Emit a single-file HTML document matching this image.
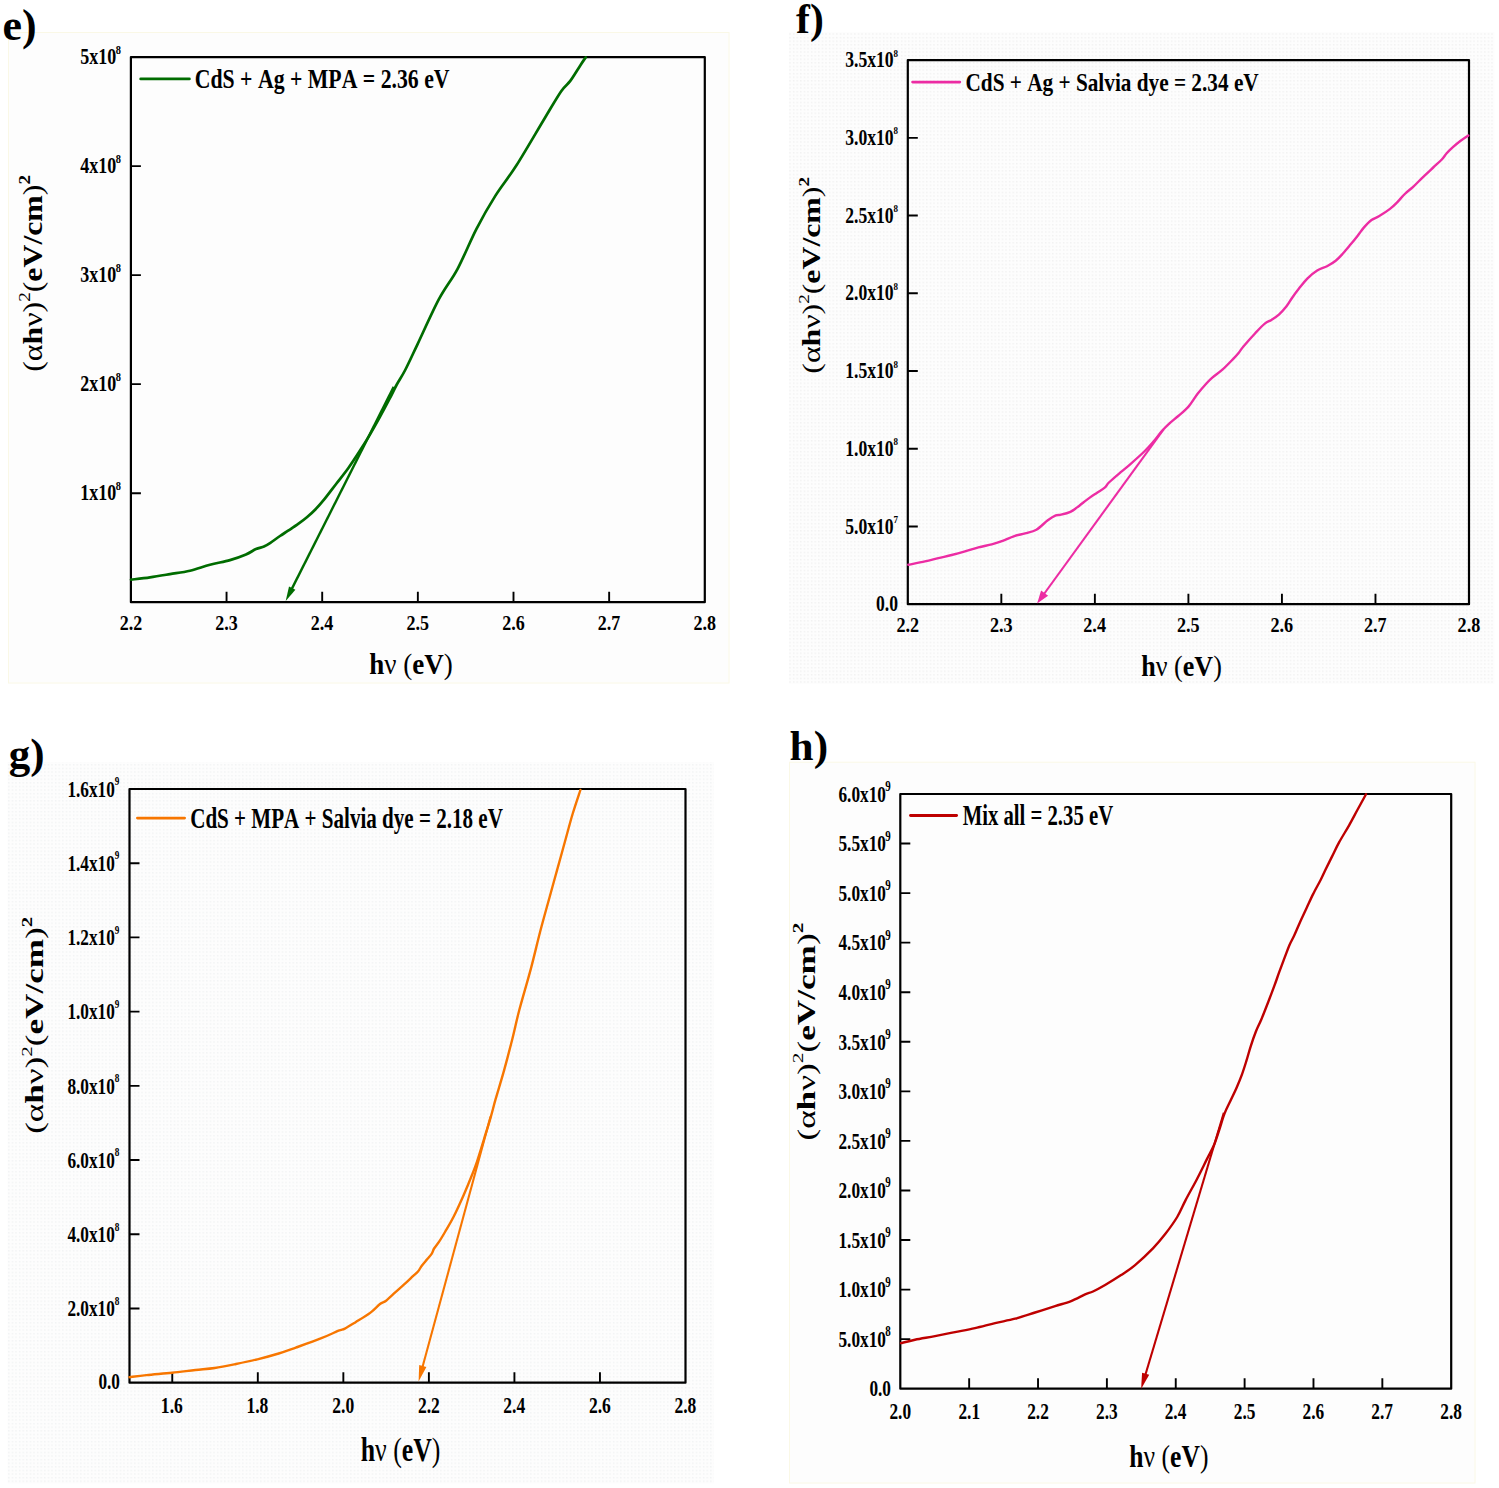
<!DOCTYPE html>
<html><head><meta charset="utf-8"><style>
html,body{margin:0;padding:0;background:#fff;}
svg{display:block;}
text{font-family:"Liberation Serif",serif;font-kerning:none;white-space:pre;}
</style></head><body>
<svg width="1499" height="1488" viewBox="0 0 1499 1488">
<defs>
<pattern id="dots" x="0" y="0" width="3.6" height="3.6" patternUnits="userSpaceOnUse"><rect width="3.6" height="3.6" fill="#fdfdfd"/><rect x="1" y="1" width="1.3" height="1.3" fill="#efefef"/></pattern>
<pattern id="dots2" x="0" y="0" width="3.6" height="3.6" patternUnits="userSpaceOnUse"><rect width="3.6" height="3.6" fill="#fdfdfd"/><rect x="1" y="1" width="1.3" height="1.3" fill="#eff1f2"/></pattern>
</defs>
<rect x="0" y="0" width="1499" height="1488" fill="#ffffff"/>
<rect x="8.5" y="32.5" width="720.5" height="650.5" fill="#fdfdfd" stroke="#faf8e6" stroke-width="1"/>
<rect x="788.8" y="32.2" width="705.7" height="651.8" fill="url(#dots)"/>
<rect x="7.7" y="762" width="706.2" height="721.5" fill="url(#dots2)"/>
<rect x="789.5" y="762.2" width="685.5" height="720.8" fill="#fdfdfd" stroke="#faf8e6" stroke-width="1"/>
<rect x="130.90" y="57.10" width="573.90" height="545.10" fill="none" stroke="#000" stroke-width="2.2" stroke-linejoin="round"/>
<path d="M226.55,602.20V591.70M322.20,602.20V591.70M417.85,602.20V591.70M513.50,602.20V591.70M609.15,602.20V591.70M130.90,493.18H140.90M130.90,384.16H140.90M130.90,275.14H140.90M130.90,166.12H140.90" stroke="#000" stroke-width="1.9" fill="none"/>
<rect x="907.80" y="60.10" width="561.20" height="544.10" fill="none" stroke="#000" stroke-width="2.2" stroke-linejoin="round"/>
<path d="M1001.33,604.20V593.70M1094.87,604.20V593.70M1188.40,604.20V593.70M1281.93,604.20V593.70M1375.47,604.20V593.70M907.80,526.47H917.80M907.80,448.74H917.80M907.80,371.01H917.80M907.80,293.29H917.80M907.80,215.56H917.80M907.80,137.83H917.80" stroke="#000" stroke-width="1.9" fill="none"/>
<rect x="129.50" y="789.00" width="556.00" height="593.70" fill="none" stroke="#000" stroke-width="2.2" stroke-linejoin="round"/>
<path d="M172.27,1382.70V1372.20M257.81,1382.70V1372.20M343.35,1382.70V1372.20M428.88,1382.70V1372.20M514.42,1382.70V1372.20M599.96,1382.70V1372.20M129.50,1308.49H139.50M129.50,1234.28H139.50M129.50,1160.06H139.50M129.50,1085.85H139.50M129.50,1011.64H139.50M129.50,937.42H139.50M129.50,863.21H139.50" stroke="#000" stroke-width="1.9" fill="none"/>
<rect x="900.30" y="794.00" width="550.90" height="594.70" fill="none" stroke="#000" stroke-width="2.2" stroke-linejoin="round"/>
<path d="M969.16,1388.70V1378.20M1038.03,1388.70V1378.20M1106.89,1388.70V1378.20M1175.75,1388.70V1378.20M1244.61,1388.70V1378.20M1313.48,1388.70V1378.20M1382.34,1388.70V1378.20M900.30,1339.14H910.30M900.30,1289.58H910.30M900.30,1240.03H910.30M900.30,1190.47H910.30M900.30,1140.91H910.30M900.30,1091.35H910.30M900.30,1041.79H910.30M900.30,992.23H910.30M900.30,942.67H910.30M900.30,893.12H910.30M900.30,843.56H910.30" stroke="#000" stroke-width="1.9" fill="none"/>
<g transform="translate(119.65,629.70) scale(0.8340,1.0000)" fill="#000">
<text x="0.00" y="-0.00" font-size="21.60" font-weight="bold" font-style="normal">2.2</text>
</g>
<g transform="translate(215.22,629.70) scale(0.8340,1.0000)" fill="#000">
<text x="0.00" y="-0.00" font-size="21.60" font-weight="bold" font-style="normal">2.3</text>
</g>
<g transform="translate(310.73,629.70) scale(0.8340,1.0000)" fill="#000">
<text x="0.00" y="-0.00" font-size="21.60" font-weight="bold" font-style="normal">2.4</text>
</g>
<g transform="translate(406.54,629.70) scale(0.8340,1.0000)" fill="#000">
<text x="0.00" y="-0.00" font-size="21.60" font-weight="bold" font-style="normal">2.5</text>
</g>
<g transform="translate(502.13,629.70) scale(0.8340,1.0000)" fill="#000">
<text x="0.00" y="-0.00" font-size="21.60" font-weight="bold" font-style="normal">2.6</text>
</g>
<g transform="translate(597.73,629.70) scale(0.8340,1.0000)" fill="#000">
<text x="0.00" y="-0.00" font-size="21.60" font-weight="bold" font-style="normal">2.7</text>
</g>
<g transform="translate(693.46,629.76) scale(0.8340,1.0000)" fill="#000">
<text x="0.00" y="-0.00" font-size="21.60" font-weight="bold" font-style="normal">2.8</text>
</g>
<g transform="translate(896.44,632.40) scale(0.8660,1.0000)" fill="#000">
<text x="0.00" y="-0.00" font-size="21.00" font-weight="bold" font-style="normal">2.2</text>
</g>
<g transform="translate(989.90,632.40) scale(0.8660,1.0000)" fill="#000">
<text x="0.00" y="-0.00" font-size="21.00" font-weight="bold" font-style="normal">2.3</text>
</g>
<g transform="translate(1083.29,632.40) scale(0.8660,1.0000)" fill="#000">
<text x="0.00" y="-0.00" font-size="21.00" font-weight="bold" font-style="normal">2.4</text>
</g>
<g transform="translate(1176.98,632.40) scale(0.8660,1.0000)" fill="#000">
<text x="0.00" y="-0.00" font-size="21.00" font-weight="bold" font-style="normal">2.5</text>
</g>
<g transform="translate(1270.45,632.40) scale(0.8660,1.0000)" fill="#000">
<text x="0.00" y="-0.00" font-size="21.00" font-weight="bold" font-style="normal">2.6</text>
</g>
<g transform="translate(1363.94,632.40) scale(0.8660,1.0000)" fill="#000">
<text x="0.00" y="-0.00" font-size="21.00" font-weight="bold" font-style="normal">2.7</text>
</g>
<g transform="translate(1457.55,632.47) scale(0.8660,1.0000)" fill="#000">
<text x="0.00" y="-0.00" font-size="21.00" font-weight="bold" font-style="normal">2.8</text>
</g>
<g transform="translate(160.87,1413.09) scale(0.7300,1.0000)" fill="#000">
<text x="0.00" y="-0.00" font-size="24.00" font-weight="bold" font-style="normal">1.6</text>
</g>
<g transform="translate(246.45,1413.16) scale(0.7300,1.0000)" fill="#000">
<text x="0.00" y="-0.00" font-size="24.00" font-weight="bold" font-style="normal">1.8</text>
</g>
<g transform="translate(332.36,1413.16) scale(0.7300,1.0000)" fill="#000">
<text x="0.00" y="-0.00" font-size="24.00" font-weight="bold" font-style="normal">2.0</text>
</g>
<g transform="translate(417.94,1413.09) scale(0.7300,1.0000)" fill="#000">
<text x="0.00" y="-0.00" font-size="24.00" font-weight="bold" font-style="normal">2.2</text>
</g>
<g transform="translate(503.27,1413.09) scale(0.7300,1.0000)" fill="#000">
<text x="0.00" y="-0.00" font-size="24.00" font-weight="bold" font-style="normal">2.4</text>
</g>
<g transform="translate(588.90,1413.09) scale(0.7300,1.0000)" fill="#000">
<text x="0.00" y="-0.00" font-size="24.00" font-weight="bold" font-style="normal">2.6</text>
</g>
<g transform="translate(674.47,1413.16) scale(0.7300,1.0000)" fill="#000">
<text x="0.00" y="-0.00" font-size="24.00" font-weight="bold" font-style="normal">2.8</text>
</g>
<g transform="translate(889.43,1418.76) scale(0.7410,1.0000)" fill="#000">
<text x="0.00" y="-0.00" font-size="23.40" font-weight="bold" font-style="normal">2.0</text>
</g>
<g transform="translate(958.41,1418.69) scale(0.7410,1.0000)" fill="#000">
<text x="0.00" y="-0.00" font-size="23.40" font-weight="bold" font-style="normal">2.1</text>
</g>
<g transform="translate(1027.20,1418.69) scale(0.7410,1.0000)" fill="#000">
<text x="0.00" y="-0.00" font-size="23.40" font-weight="bold" font-style="normal">2.2</text>
</g>
<g transform="translate(1095.98,1418.69) scale(0.7410,1.0000)" fill="#000">
<text x="0.00" y="-0.00" font-size="23.40" font-weight="bold" font-style="normal">2.3</text>
</g>
<g transform="translate(1164.71,1418.69) scale(0.7410,1.0000)" fill="#000">
<text x="0.00" y="-0.00" font-size="23.40" font-weight="bold" font-style="normal">2.4</text>
</g>
<g transform="translate(1233.73,1418.69) scale(0.7410,1.0000)" fill="#000">
<text x="0.00" y="-0.00" font-size="23.40" font-weight="bold" font-style="normal">2.5</text>
</g>
<g transform="translate(1302.53,1418.69) scale(0.7410,1.0000)" fill="#000">
<text x="0.00" y="-0.00" font-size="23.40" font-weight="bold" font-style="normal">2.6</text>
</g>
<g transform="translate(1371.35,1418.69) scale(0.7410,1.0000)" fill="#000">
<text x="0.00" y="-0.00" font-size="23.40" font-weight="bold" font-style="normal">2.7</text>
</g>
<g transform="translate(1440.29,1418.76) scale(0.7410,1.0000)" fill="#000">
<text x="0.00" y="-0.00" font-size="23.40" font-weight="bold" font-style="normal">2.8</text>
</g>
<g transform="translate(80.32,500.45) scale(0.8100,1.0000)" fill="#000">
<text x="0.00" y="-0.00" font-size="22.20" font-weight="bold" font-style="normal">1x10</text>
</g>
<g transform="translate(115.66,489.93) scale(0.8800,1.0000)" fill="#000">
<text x="0.00" y="-0.00" font-size="11.80" font-weight="bold" font-style="normal">8</text>
</g>
<g transform="translate(80.32,391.43) scale(0.8100,1.0000)" fill="#000">
<text x="0.00" y="-0.00" font-size="22.20" font-weight="bold" font-style="normal">2x10</text>
</g>
<g transform="translate(115.66,380.91) scale(0.8800,1.0000)" fill="#000">
<text x="0.00" y="-0.00" font-size="11.80" font-weight="bold" font-style="normal">8</text>
</g>
<g transform="translate(80.32,282.41) scale(0.8100,1.0000)" fill="#000">
<text x="0.00" y="-0.00" font-size="22.20" font-weight="bold" font-style="normal">3x10</text>
</g>
<g transform="translate(115.66,271.89) scale(0.8800,1.0000)" fill="#000">
<text x="0.00" y="-0.00" font-size="11.80" font-weight="bold" font-style="normal">8</text>
</g>
<g transform="translate(80.32,173.39) scale(0.8100,1.0000)" fill="#000">
<text x="0.00" y="-0.00" font-size="22.20" font-weight="bold" font-style="normal">4x10</text>
</g>
<g transform="translate(115.66,162.87) scale(0.8800,1.0000)" fill="#000">
<text x="0.00" y="-0.00" font-size="11.80" font-weight="bold" font-style="normal">8</text>
</g>
<g transform="translate(80.32,64.37) scale(0.8100,1.0000)" fill="#000">
<text x="0.00" y="-0.00" font-size="22.20" font-weight="bold" font-style="normal">5x10</text>
</g>
<g transform="translate(115.66,53.85) scale(0.8800,1.0000)" fill="#000">
<text x="0.00" y="-0.00" font-size="11.80" font-weight="bold" font-style="normal">8</text>
</g>
<g transform="translate(875.95,610.69) scale(0.7970,1.0000)" fill="#000">
<text x="0.00" y="-0.00" font-size="22.10" font-weight="bold" font-style="normal">0.0</text>
</g>
<g transform="translate(845.23,533.66) scale(0.7970,1.0000)" fill="#000">
<text x="0.00" y="-0.00" font-size="22.10" font-weight="bold" font-style="normal">5.0x10</text>
</g>
<g transform="translate(893.39,522.98) scale(0.8100,1.0000)" fill="#000">
<text x="0.00" y="-0.00" font-size="11.10" font-weight="bold" font-style="normal">7</text>
</g>
<g transform="translate(845.23,455.94) scale(0.7970,1.0000)" fill="#000">
<text x="0.00" y="-0.00" font-size="22.10" font-weight="bold" font-style="normal">1.0x10</text>
</g>
<g transform="translate(893.60,445.37) scale(0.8100,1.0000)" fill="#000">
<text x="0.00" y="-0.00" font-size="11.10" font-weight="bold" font-style="normal">8</text>
</g>
<g transform="translate(845.23,378.21) scale(0.7970,1.0000)" fill="#000">
<text x="0.00" y="-0.00" font-size="22.10" font-weight="bold" font-style="normal">1.5x10</text>
</g>
<g transform="translate(893.60,367.64) scale(0.8100,1.0000)" fill="#000">
<text x="0.00" y="-0.00" font-size="11.10" font-weight="bold" font-style="normal">8</text>
</g>
<g transform="translate(845.23,300.48) scale(0.7970,1.0000)" fill="#000">
<text x="0.00" y="-0.00" font-size="22.10" font-weight="bold" font-style="normal">2.0x10</text>
</g>
<g transform="translate(893.60,289.91) scale(0.8100,1.0000)" fill="#000">
<text x="0.00" y="-0.00" font-size="11.10" font-weight="bold" font-style="normal">8</text>
</g>
<g transform="translate(845.23,222.75) scale(0.7970,1.0000)" fill="#000">
<text x="0.00" y="-0.00" font-size="22.10" font-weight="bold" font-style="normal">2.5x10</text>
</g>
<g transform="translate(893.60,212.18) scale(0.8100,1.0000)" fill="#000">
<text x="0.00" y="-0.00" font-size="11.10" font-weight="bold" font-style="normal">8</text>
</g>
<g transform="translate(845.23,145.02) scale(0.7970,1.0000)" fill="#000">
<text x="0.00" y="-0.00" font-size="22.10" font-weight="bold" font-style="normal">3.0x10</text>
</g>
<g transform="translate(893.60,134.45) scale(0.8100,1.0000)" fill="#000">
<text x="0.00" y="-0.00" font-size="11.10" font-weight="bold" font-style="normal">8</text>
</g>
<g transform="translate(845.23,67.29) scale(0.7970,1.0000)" fill="#000">
<text x="0.00" y="-0.00" font-size="22.10" font-weight="bold" font-style="normal">3.5x10</text>
</g>
<g transform="translate(893.60,56.72) scale(0.8100,1.0000)" fill="#000">
<text x="0.00" y="-0.00" font-size="11.10" font-weight="bold" font-style="normal">8</text>
</g>
<g transform="translate(98.39,1389.18) scale(0.7310,1.0000)" fill="#000">
<text x="0.00" y="-0.00" font-size="23.60" font-weight="bold" font-style="normal">0.0</text>
</g>
<g transform="translate(67.42,1316.17) scale(0.7310,1.0000)" fill="#000">
<text x="0.00" y="-0.00" font-size="23.60" font-weight="bold" font-style="normal">2.0x10</text>
</g>
<g transform="translate(114.69,1304.77) scale(0.7100,1.0000)" fill="#000">
<text x="0.00" y="-0.00" font-size="13.00" font-weight="bold" font-style="normal">8</text>
</g>
<g transform="translate(67.42,1241.96) scale(0.7310,1.0000)" fill="#000">
<text x="0.00" y="-0.00" font-size="23.60" font-weight="bold" font-style="normal">4.0x10</text>
</g>
<g transform="translate(114.69,1230.56) scale(0.7100,1.0000)" fill="#000">
<text x="0.00" y="-0.00" font-size="13.00" font-weight="bold" font-style="normal">8</text>
</g>
<g transform="translate(67.42,1167.74) scale(0.7310,1.0000)" fill="#000">
<text x="0.00" y="-0.00" font-size="23.60" font-weight="bold" font-style="normal">6.0x10</text>
</g>
<g transform="translate(114.69,1156.34) scale(0.7100,1.0000)" fill="#000">
<text x="0.00" y="-0.00" font-size="13.00" font-weight="bold" font-style="normal">8</text>
</g>
<g transform="translate(67.42,1093.53) scale(0.7310,1.0000)" fill="#000">
<text x="0.00" y="-0.00" font-size="23.60" font-weight="bold" font-style="normal">8.0x10</text>
</g>
<g transform="translate(114.69,1082.13) scale(0.7100,1.0000)" fill="#000">
<text x="0.00" y="-0.00" font-size="13.00" font-weight="bold" font-style="normal">8</text>
</g>
<g transform="translate(67.42,1019.32) scale(0.7310,1.0000)" fill="#000">
<text x="0.00" y="-0.00" font-size="23.60" font-weight="bold" font-style="normal">1.0x10</text>
</g>
<g transform="translate(114.75,1007.88) scale(0.7100,1.0000)" fill="#000">
<text x="0.00" y="-0.00" font-size="13.00" font-weight="bold" font-style="normal">9</text>
</g>
<g transform="translate(67.42,945.11) scale(0.7310,1.0000)" fill="#000">
<text x="0.00" y="-0.00" font-size="23.60" font-weight="bold" font-style="normal">1.2x10</text>
</g>
<g transform="translate(114.75,933.67) scale(0.7100,1.0000)" fill="#000">
<text x="0.00" y="-0.00" font-size="13.00" font-weight="bold" font-style="normal">9</text>
</g>
<g transform="translate(67.42,870.89) scale(0.7310,1.0000)" fill="#000">
<text x="0.00" y="-0.00" font-size="23.60" font-weight="bold" font-style="normal">1.4x10</text>
</g>
<g transform="translate(114.75,859.45) scale(0.7100,1.0000)" fill="#000">
<text x="0.00" y="-0.00" font-size="13.00" font-weight="bold" font-style="normal">9</text>
</g>
<g transform="translate(67.42,796.68) scale(0.7310,1.0000)" fill="#000">
<text x="0.00" y="-0.00" font-size="23.60" font-weight="bold" font-style="normal">1.6x10</text>
</g>
<g transform="translate(114.75,785.24) scale(0.7100,1.0000)" fill="#000">
<text x="0.00" y="-0.00" font-size="13.00" font-weight="bold" font-style="normal">9</text>
</g>
<g transform="translate(869.39,1395.68) scale(0.7220,1.0000)" fill="#000">
<text x="0.00" y="-0.00" font-size="23.90" font-weight="bold" font-style="normal">0.0</text>
</g>
<g transform="translate(838.50,1346.92) scale(0.7220,1.0000)" fill="#000">
<text x="0.00" y="-0.00" font-size="23.90" font-weight="bold" font-style="normal">5.0x10</text>
</g>
<g transform="translate(885.14,1336.19) scale(0.8000,1.0000)" fill="#000">
<text x="0.00" y="-0.00" font-size="13.70" font-weight="bold" font-style="normal">8</text>
</g>
<g transform="translate(838.50,1297.36) scale(0.7220,1.0000)" fill="#000">
<text x="0.00" y="-0.00" font-size="23.90" font-weight="bold" font-style="normal">1.0x10</text>
</g>
<g transform="translate(885.20,1286.59) scale(0.8000,1.0000)" fill="#000">
<text x="0.00" y="-0.00" font-size="13.70" font-weight="bold" font-style="normal">9</text>
</g>
<g transform="translate(838.50,1247.80) scale(0.7220,1.0000)" fill="#000">
<text x="0.00" y="-0.00" font-size="23.90" font-weight="bold" font-style="normal">1.5x10</text>
</g>
<g transform="translate(885.20,1237.03) scale(0.8000,1.0000)" fill="#000">
<text x="0.00" y="-0.00" font-size="13.70" font-weight="bold" font-style="normal">9</text>
</g>
<g transform="translate(838.50,1198.24) scale(0.7220,1.0000)" fill="#000">
<text x="0.00" y="-0.00" font-size="23.90" font-weight="bold" font-style="normal">2.0x10</text>
</g>
<g transform="translate(885.20,1187.47) scale(0.8000,1.0000)" fill="#000">
<text x="0.00" y="-0.00" font-size="13.70" font-weight="bold" font-style="normal">9</text>
</g>
<g transform="translate(838.50,1148.69) scale(0.7220,1.0000)" fill="#000">
<text x="0.00" y="-0.00" font-size="23.90" font-weight="bold" font-style="normal">2.5x10</text>
</g>
<g transform="translate(885.20,1137.91) scale(0.8000,1.0000)" fill="#000">
<text x="0.00" y="-0.00" font-size="13.70" font-weight="bold" font-style="normal">9</text>
</g>
<g transform="translate(838.50,1099.13) scale(0.7220,1.0000)" fill="#000">
<text x="0.00" y="-0.00" font-size="23.90" font-weight="bold" font-style="normal">3.0x10</text>
</g>
<g transform="translate(885.20,1088.35) scale(0.8000,1.0000)" fill="#000">
<text x="0.00" y="-0.00" font-size="13.70" font-weight="bold" font-style="normal">9</text>
</g>
<g transform="translate(838.50,1049.57) scale(0.7220,1.0000)" fill="#000">
<text x="0.00" y="-0.00" font-size="23.90" font-weight="bold" font-style="normal">3.5x10</text>
</g>
<g transform="translate(885.20,1038.80) scale(0.8000,1.0000)" fill="#000">
<text x="0.00" y="-0.00" font-size="13.70" font-weight="bold" font-style="normal">9</text>
</g>
<g transform="translate(838.50,1000.01) scale(0.7220,1.0000)" fill="#000">
<text x="0.00" y="-0.00" font-size="23.90" font-weight="bold" font-style="normal">4.0x10</text>
</g>
<g transform="translate(885.20,989.24) scale(0.8000,1.0000)" fill="#000">
<text x="0.00" y="-0.00" font-size="13.70" font-weight="bold" font-style="normal">9</text>
</g>
<g transform="translate(838.50,950.45) scale(0.7220,1.0000)" fill="#000">
<text x="0.00" y="-0.00" font-size="23.90" font-weight="bold" font-style="normal">4.5x10</text>
</g>
<g transform="translate(885.20,939.68) scale(0.8000,1.0000)" fill="#000">
<text x="0.00" y="-0.00" font-size="13.70" font-weight="bold" font-style="normal">9</text>
</g>
<g transform="translate(838.50,900.89) scale(0.7220,1.0000)" fill="#000">
<text x="0.00" y="-0.00" font-size="23.90" font-weight="bold" font-style="normal">5.0x10</text>
</g>
<g transform="translate(885.20,890.12) scale(0.8000,1.0000)" fill="#000">
<text x="0.00" y="-0.00" font-size="13.70" font-weight="bold" font-style="normal">9</text>
</g>
<g transform="translate(838.50,851.34) scale(0.7220,1.0000)" fill="#000">
<text x="0.00" y="-0.00" font-size="23.90" font-weight="bold" font-style="normal">5.5x10</text>
</g>
<g transform="translate(885.20,840.56) scale(0.8000,1.0000)" fill="#000">
<text x="0.00" y="-0.00" font-size="13.70" font-weight="bold" font-style="normal">9</text>
</g>
<g transform="translate(838.50,801.78) scale(0.7220,1.0000)" fill="#000">
<text x="0.00" y="-0.00" font-size="23.90" font-weight="bold" font-style="normal">6.0x10</text>
</g>
<g transform="translate(885.20,791.00) scale(0.8000,1.0000)" fill="#000">
<text x="0.00" y="-0.00" font-size="13.70" font-weight="bold" font-style="normal">9</text>
</g>
<g transform="translate(369.23,673.80) scale(0.9104,1.0000)" fill="#000">
<text x="0.00" y="-0.00" font-size="29.70" font-weight="bold" font-style="normal">h</text>
<text x="16.52" y="-0.00" font-size="29.70" font-weight="normal" font-style="normal">ν</text>
<text x="29.95" y="-0.00" font-size="29.70" font-weight="bold" font-style="normal"> </text>
<text x="37.37" y="-0.00" font-size="29.70" font-weight="normal" font-style="normal">(</text>
<text x="47.26" y="-0.00" font-size="29.70" font-weight="bold" font-style="normal">eV</text>
<text x="81.89" y="-0.00" font-size="29.70" font-weight="normal" font-style="normal">)</text>
</g>
<g transform="translate(1141.35,676.00) scale(0.9044,1.0000)" fill="#000">
<text x="0.00" y="-0.00" font-size="28.80" font-weight="bold" font-style="normal">h</text>
<text x="16.02" y="-0.00" font-size="28.80" font-weight="normal" font-style="normal">ν</text>
<text x="29.04" y="-0.00" font-size="28.80" font-weight="bold" font-style="normal"> </text>
<text x="36.24" y="-0.00" font-size="28.80" font-weight="normal" font-style="normal">(</text>
<text x="45.83" y="-0.00" font-size="28.80" font-weight="bold" font-style="normal">eV</text>
<text x="79.41" y="-0.00" font-size="28.80" font-weight="normal" font-style="normal">)</text>
</g>
<g transform="translate(360.66,1460.70) scale(0.7895,1.0000)" fill="#000">
<text x="0.00" y="-0.00" font-size="32.70" font-weight="bold" font-style="normal">h</text>
<text x="18.19" y="-0.00" font-size="32.70" font-weight="normal" font-style="normal">ν</text>
<text x="32.97" y="-0.00" font-size="32.70" font-weight="bold" font-style="normal"> </text>
<text x="41.15" y="-0.00" font-size="32.70" font-weight="normal" font-style="normal">(</text>
<text x="52.04" y="-0.00" font-size="32.70" font-weight="bold" font-style="normal">eV</text>
<text x="90.16" y="-0.00" font-size="32.70" font-weight="normal" font-style="normal">)</text>
</g>
<g transform="translate(1129.36,1466.70) scale(0.8070,1.0000)" fill="#000">
<text x="0.00" y="-0.00" font-size="31.70" font-weight="bold" font-style="normal">h</text>
<text x="17.63" y="-0.00" font-size="31.70" font-weight="normal" font-style="normal">ν</text>
<text x="31.96" y="-0.00" font-size="31.70" font-weight="bold" font-style="normal"> </text>
<text x="39.89" y="-0.00" font-size="31.70" font-weight="normal" font-style="normal">(</text>
<text x="50.44" y="-0.00" font-size="31.70" font-weight="bold" font-style="normal">eV</text>
<text x="87.41" y="-0.00" font-size="31.70" font-weight="normal" font-style="normal">)</text>
</g>
<g transform="translate(41.90,371.80) rotate(-90) scale(1.1365,0.9571)" fill="#000">
<text x="0.00" y="-0.00" font-size="28.00" font-weight="normal" font-style="normal">(</text>
<text x="9.32" y="-0.00" font-size="28.00" font-weight="normal" font-style="normal">α</text>
<text x="23.99" y="-0.00" font-size="28.00" font-weight="bold" font-style="normal">h</text>
<text x="39.57" y="-0.00" font-size="28.00" font-weight="normal" font-style="normal">ν</text>
<text x="52.23" y="-0.00" font-size="28.00" font-weight="normal" font-style="normal">)</text>
<text x="61.55" y="-12.60" font-size="16.80" font-weight="normal" font-style="normal">2</text>
<text x="69.95" y="-0.00" font-size="28.00" font-weight="normal" font-style="normal">(</text>
<text x="79.28" y="-0.00" font-size="28.00" font-weight="bold" font-style="normal">eV/cm</text>
<text x="155.45" y="-0.00" font-size="28.00" font-weight="normal" font-style="normal">)</text>
<text x="164.78" y="-12.60" font-size="16.80" font-weight="bold" font-style="normal">2</text>
</g>
<g transform="translate(820.30,373.70) rotate(-90) scale(1.1359,0.9071)" fill="#000">
<text x="0.00" y="-0.00" font-size="28.00" font-weight="normal" font-style="normal">(</text>
<text x="9.32" y="-0.00" font-size="28.00" font-weight="normal" font-style="normal">α</text>
<text x="23.99" y="-0.00" font-size="28.00" font-weight="bold" font-style="normal">h</text>
<text x="39.57" y="-0.00" font-size="28.00" font-weight="normal" font-style="normal">ν</text>
<text x="52.23" y="-0.00" font-size="28.00" font-weight="normal" font-style="normal">)</text>
<text x="61.55" y="-12.60" font-size="16.80" font-weight="normal" font-style="normal">2</text>
<text x="69.95" y="-0.00" font-size="28.00" font-weight="normal" font-style="normal">(</text>
<text x="79.28" y="-0.00" font-size="28.00" font-weight="bold" font-style="normal">eV/cm</text>
<text x="155.45" y="-0.00" font-size="28.00" font-weight="normal" font-style="normal">)</text>
<text x="164.78" y="-12.60" font-size="16.80" font-weight="bold" font-style="normal">2</text>
</g>
<g transform="translate(43.00,1133.84) rotate(-90) scale(1.2533,0.9036)" fill="#000">
<text x="0.00" y="-0.00" font-size="28.00" font-weight="normal" font-style="normal">(</text>
<text x="9.32" y="-0.00" font-size="28.00" font-weight="normal" font-style="normal">α</text>
<text x="23.99" y="-0.00" font-size="28.00" font-weight="bold" font-style="normal">h</text>
<text x="39.57" y="-0.00" font-size="28.00" font-weight="normal" font-style="normal">ν</text>
<text x="52.23" y="-0.00" font-size="28.00" font-weight="normal" font-style="normal">)</text>
<text x="61.55" y="-12.60" font-size="16.80" font-weight="normal" font-style="normal">2</text>
<text x="69.95" y="-0.00" font-size="28.00" font-weight="normal" font-style="normal">(</text>
<text x="79.28" y="-0.00" font-size="28.00" font-weight="bold" font-style="normal">eV/cm</text>
<text x="155.45" y="-0.00" font-size="28.00" font-weight="normal" font-style="normal">)</text>
<text x="164.78" y="-12.60" font-size="16.80" font-weight="bold" font-style="normal">2</text>
</g>
<g transform="translate(814.50,1140.55) rotate(-90) scale(1.2574,0.9107)" fill="#000">
<text x="0.00" y="-0.00" font-size="28.00" font-weight="normal" font-style="normal">(</text>
<text x="9.32" y="-0.00" font-size="28.00" font-weight="normal" font-style="normal">α</text>
<text x="23.99" y="-0.00" font-size="28.00" font-weight="bold" font-style="normal">h</text>
<text x="39.57" y="-0.00" font-size="28.00" font-weight="normal" font-style="normal">ν</text>
<text x="52.23" y="-0.00" font-size="28.00" font-weight="normal" font-style="normal">)</text>
<text x="61.55" y="-12.60" font-size="16.80" font-weight="normal" font-style="normal">2</text>
<text x="69.95" y="-0.00" font-size="28.00" font-weight="normal" font-style="normal">(</text>
<text x="79.28" y="-0.00" font-size="28.00" font-weight="bold" font-style="normal">eV/cm</text>
<text x="155.45" y="-0.00" font-size="28.00" font-weight="normal" font-style="normal">)</text>
<text x="164.78" y="-12.60" font-size="16.80" font-weight="bold" font-style="normal">2</text>
</g>
<g transform="translate(2.50,39.60) scale(0.9986,1.0000)" fill="#000">
<text x="0.00" y="-0.00" font-size="44.00" font-weight="bold" font-style="normal">e)</text>
</g>
<g transform="translate(796.09,33.00) scale(0.9684,1.0000)" fill="#000">
<text x="0.00" y="-0.00" font-size="43.00" font-weight="bold" font-style="normal">f)</text>
</g>
<g transform="translate(8.77,768.00) scale(1.0001,1.0000)" fill="#000">
<text x="0.00" y="-0.00" font-size="43.00" font-weight="bold" font-style="normal">g)</text>
</g>
<g transform="translate(789.62,760.30) scale(1.0207,1.0000)" fill="#000">
<text x="0.00" y="-0.00" font-size="42.40" font-weight="bold" font-style="normal">h)</text>
</g>
<path d="M140.70000000000002,78.9H189.4" stroke="#006c00" stroke-width="2.8" stroke-linecap="round"/>
<g transform="translate(194.74,87.60) scale(0.8123,1.0000)" fill="#000">
<text x="0.00" y="-0.00" font-size="26.80" font-weight="bold" font-style="normal">CdS + Ag + MPA = 2.36 eV</text>
</g>
<path d="M912.6,82.1H959.8000000000001" stroke="#ec2ca3" stroke-width="2.8" stroke-linecap="round"/>
<g transform="translate(965.46,91.00) scale(0.8246,1.0000)" fill="#000">
<text x="0.00" y="-0.00" font-size="25.80" font-weight="bold" font-style="normal">CdS + Ag + Salvia dye = 2.34 eV</text>
</g>
<path d="M137.4,818.1H184.6" stroke="#f77600" stroke-width="2.8" stroke-linecap="round"/>
<g transform="translate(190.17,828.00) scale(0.7318,1.0000)" fill="#000">
<text x="0.00" y="-0.00" font-size="28.80" font-weight="bold" font-style="normal">CdS + MPA + Salvia dye = 2.18 eV</text>
</g>
<path d="M910.5,815.5H956.6" stroke="#be0000" stroke-width="2.8" stroke-linecap="round"/>
<g transform="translate(962.65,825.20) scale(0.7270,1.0000)" fill="#000">
<text x="0.00" y="-0.00" font-size="28.50" font-weight="bold" font-style="normal">Mix all = 2.35 eV</text>
</g>
<path d="M131.00,579.70 C134.17,579.30 143.50,578.23 150.00,577.30 C156.50,576.37 163.33,575.20 170.00,574.10 C176.67,573.00 183.33,572.27 190.00,570.70 C196.67,569.13 203.33,566.47 210.00,564.70 C216.67,562.93 224.00,561.80 230.00,560.10 C236.00,558.40 241.67,556.33 246.00,554.50 C250.33,552.67 253.00,550.43 256.00,549.10 C259.00,547.77 261.67,547.50 264.00,546.50 C266.33,545.50 267.33,544.85 270.00,543.10 C272.67,541.35 276.98,538.07 280.00,536.00 C283.02,533.93 285.07,532.72 288.10,530.70 C291.13,528.68 295.07,526.15 298.20,523.90 C301.33,521.65 304.00,519.65 306.90,517.20 C309.80,514.75 312.72,512.17 315.60,509.20 C318.48,506.23 320.75,503.65 324.20,499.40 C327.65,495.15 332.27,488.93 336.30,483.70 C340.33,478.47 344.37,473.65 348.40,468.00 C352.43,462.35 356.87,455.45 360.50,449.80 C364.13,444.15 366.98,439.53 370.20,434.10 C373.42,428.67 376.58,423.05 379.80,417.20 C383.02,411.35 386.67,404.45 389.50,399.00 C392.33,393.55 394.18,389.33 396.80,384.50 C399.42,379.67 401.73,376.73 405.20,370.00 C408.67,363.27 412.00,355.87 417.60,344.10 C423.20,332.33 432.13,311.95 438.80,299.40 C445.47,286.85 451.32,280.57 457.60,268.80 C463.88,257.03 470.22,240.95 476.50,228.80 C482.78,216.65 488.63,206.48 495.30,195.90 C501.97,185.32 508.27,178.25 516.50,165.30 C524.73,152.35 537.25,130.55 544.70,118.20 C552.15,105.85 556.93,97.42 561.20,91.20 C565.47,84.98 567.07,85.28 570.30,80.90 C573.53,76.52 578.03,68.82 580.60,64.90 C583.17,60.98 584.85,58.65 585.70,57.40" stroke="#006c00" stroke-width="2.7" fill="none" stroke-linejoin="round" stroke-linecap="round"/>
<path d="M393.7,386.9L291.8,588.9" stroke="#006c00" stroke-width="2.4" fill="none"/>
<path d="M285.7,601.0L289.0,586.4L295.4,589.7Z" fill="#006c00"/>
<path d="M908.30,564.80 C911.08,564.23 919.98,562.52 925.00,561.40 C930.02,560.28 933.95,559.17 938.40,558.10 C942.85,557.03 947.27,556.12 951.70,555.00 C956.13,553.88 960.55,552.67 965.00,551.40 C969.45,550.13 973.95,548.58 978.40,547.40 C982.85,546.22 987.92,545.30 991.70,544.30 C995.48,543.30 997.32,542.77 1001.10,541.40 C1004.88,540.03 1010.40,537.43 1014.40,536.10 C1018.40,534.77 1021.43,534.47 1025.10,533.40 C1028.77,532.33 1032.62,531.88 1036.40,529.70 C1040.18,527.52 1044.57,522.68 1047.80,520.30 C1051.03,517.92 1053.58,516.33 1055.80,515.40 C1058.02,514.47 1058.67,515.30 1061.10,514.70 C1063.53,514.10 1067.73,513.02 1070.40,511.80 C1073.07,510.58 1073.98,509.68 1077.10,507.40 C1080.22,505.12 1085.77,500.55 1089.10,498.10 C1092.43,495.65 1094.45,494.48 1097.10,492.70 C1099.75,490.92 1103.03,489.10 1105.00,487.40 C1106.97,485.70 1106.28,485.03 1108.90,482.50 C1111.52,479.97 1117.25,475.15 1120.70,472.20 C1124.15,469.25 1125.67,468.25 1129.60,464.80 C1133.53,461.35 1140.37,455.32 1144.30,451.50 C1148.23,447.68 1150.23,445.35 1153.20,441.90 C1156.17,438.45 1159.38,433.88 1162.10,430.80 C1164.82,427.72 1166.80,425.87 1169.50,423.40 C1172.20,420.93 1175.10,418.83 1178.30,416.00 C1181.50,413.17 1185.48,410.10 1188.70,406.40 C1191.92,402.70 1194.65,397.62 1197.60,393.80 C1200.55,389.98 1203.95,386.20 1206.40,383.50 C1208.85,380.80 1209.58,379.95 1212.30,377.60 C1215.02,375.25 1219.25,372.48 1222.70,369.40 C1226.15,366.32 1230.28,361.93 1233.00,359.10 C1235.72,356.27 1237.27,354.50 1239.00,352.40 C1240.73,350.30 1240.70,349.70 1243.40,346.50 C1246.10,343.30 1251.63,337.02 1255.20,333.20 C1258.77,329.38 1262.08,325.82 1264.80,323.60 C1267.52,321.38 1269.15,321.38 1271.50,319.90 C1273.85,318.42 1276.43,316.92 1278.90,314.70 C1281.37,312.48 1284.08,309.43 1286.30,306.60 C1288.52,303.77 1290.15,300.62 1292.20,297.70 C1294.25,294.78 1296.08,292.28 1298.60,289.10 C1301.12,285.92 1304.20,281.68 1307.30,278.60 C1310.40,275.52 1313.92,272.67 1317.20,270.60 C1320.48,268.53 1323.92,267.85 1327.00,266.20 C1330.08,264.55 1333.02,262.85 1335.70,260.70 C1338.38,258.55 1340.63,255.98 1343.10,253.30 C1345.57,250.62 1348.03,247.58 1350.50,244.60 C1352.97,241.62 1355.65,238.27 1357.90,235.40 C1360.15,232.53 1361.73,229.97 1364.00,227.40 C1366.27,224.83 1369.02,221.85 1371.50,220.00 C1373.98,218.15 1375.82,218.15 1378.90,216.30 C1381.98,214.45 1386.92,211.27 1390.00,208.90 C1393.08,206.53 1394.93,204.58 1397.40,202.10 C1399.87,199.62 1402.13,196.58 1404.80,194.00 C1407.47,191.42 1410.32,189.47 1413.40,186.60 C1416.48,183.73 1420.00,179.98 1423.30,176.80 C1426.60,173.62 1430.12,170.38 1433.20,167.50 C1436.28,164.62 1439.55,161.87 1441.80,159.50 C1444.05,157.13 1444.85,155.35 1446.70,153.30 C1448.55,151.25 1450.63,149.25 1452.90,147.20 C1455.17,145.15 1457.73,142.97 1460.30,141.00 C1462.87,139.03 1466.97,136.33 1468.30,135.40" stroke="#ec2ca3" stroke-width="2.4" fill="none" stroke-linejoin="round" stroke-linecap="round"/>
<path d="M1163.6,429.3L1044.0,594.0" stroke="#ec2ca3" stroke-width="2.1" fill="none"/>
<path d="M1037.1,603.5L1041.1,590.6L1048.1,595.7Z" fill="#ec2ca3"/>
<path d="M129.50,1377.20 C132.30,1376.85 139.22,1375.85 146.30,1375.10 C153.38,1374.35 163.80,1373.55 172.00,1372.70 C180.20,1371.85 188.38,1370.78 195.50,1370.00 C202.62,1369.22 207.95,1369.00 214.70,1368.00 C221.45,1367.00 228.88,1365.45 236.00,1364.00 C243.12,1362.55 250.28,1361.05 257.40,1359.30 C264.52,1357.55 272.30,1355.45 278.70,1353.50 C285.10,1351.55 288.68,1350.15 295.80,1347.60 C302.92,1345.05 314.28,1341.02 321.40,1338.20 C328.52,1335.38 334.58,1332.30 338.50,1330.70 C342.42,1329.10 342.05,1330.02 344.90,1328.60 C347.75,1327.18 351.33,1324.87 355.60,1322.20 C359.87,1319.53 366.43,1315.63 370.50,1312.60 C374.57,1309.57 377.40,1305.98 380.00,1304.00 C382.60,1302.02 383.52,1302.67 386.10,1300.70 C388.68,1298.73 392.12,1295.25 395.50,1292.20 C398.88,1289.15 403.50,1285.07 406.40,1282.40 C409.30,1279.73 410.93,1278.07 412.90,1276.20 C414.87,1274.33 416.75,1272.90 418.20,1271.20 C419.65,1269.50 420.12,1267.98 421.60,1266.00 C423.08,1264.02 425.40,1261.37 427.10,1259.30 C428.80,1257.23 430.63,1255.40 431.80,1253.60 C432.97,1251.80 432.85,1250.53 434.10,1248.50 C435.35,1246.47 437.48,1244.15 439.30,1241.40 C441.12,1238.65 442.62,1236.10 445.00,1232.00 C447.38,1227.90 450.48,1222.97 453.60,1216.80 C456.72,1210.63 460.62,1202.00 463.70,1195.00 C466.78,1188.00 469.87,1180.42 472.10,1174.80 C474.33,1169.18 475.13,1167.18 477.10,1161.30 C479.07,1155.42 481.65,1146.78 483.90,1139.50 C486.15,1132.22 488.65,1124.32 490.60,1117.60 C492.55,1110.88 493.37,1107.03 495.60,1099.20 C497.83,1091.37 501.20,1080.68 504.00,1070.60 C506.80,1060.52 509.85,1048.80 512.40,1038.70 C514.95,1028.60 516.22,1021.68 519.30,1010.00 C522.38,998.32 527.42,981.68 530.90,968.60 C534.38,955.52 537.10,943.35 540.20,931.50 C543.30,919.65 546.67,907.82 549.50,897.50 C552.33,887.18 554.63,878.88 557.20,869.60 C559.77,860.32 562.33,851.07 564.90,841.80 C567.47,832.53 570.02,822.63 572.60,814.00 C575.18,805.37 579.10,794.00 580.40,790.00" stroke="#f77600" stroke-width="2.4" fill="none" stroke-linejoin="round" stroke-linecap="round"/>
<path d="M490.6,1116.5L422.5,1367.0" stroke="#f77600" stroke-width="2.1" fill="none"/>
<path d="M418.6,1381.5L419.2,1365.1L426.4,1367.0Z" fill="#f77600"/>
<path d="M901.00,1343.10 C903.33,1342.53 909.33,1340.87 915.00,1339.70 C920.67,1338.53 928.33,1337.37 935.00,1336.10 C941.67,1334.83 948.33,1333.43 955.00,1332.10 C961.67,1330.77 968.32,1329.60 975.00,1328.10 C981.68,1326.60 988.42,1324.67 995.10,1323.10 C1001.78,1321.53 1008.43,1320.47 1015.10,1318.70 C1021.77,1316.93 1028.43,1314.60 1035.10,1312.50 C1041.77,1310.40 1049.10,1308.00 1055.10,1306.10 C1061.10,1304.20 1066.10,1303.05 1071.10,1301.10 C1076.10,1299.15 1081.45,1296.00 1085.10,1294.40 C1088.75,1292.80 1089.67,1293.07 1093.00,1291.50 C1096.33,1289.93 1100.42,1287.73 1105.10,1285.00 C1109.78,1282.27 1116.10,1278.42 1121.10,1275.10 C1126.10,1271.78 1129.75,1269.60 1135.10,1265.10 C1140.45,1260.60 1148.18,1253.27 1153.20,1248.10 C1158.22,1242.93 1161.20,1239.28 1165.20,1234.10 C1169.20,1228.92 1173.80,1222.67 1177.20,1217.00 C1180.60,1211.33 1182.32,1206.40 1185.60,1200.10 C1188.88,1193.80 1193.37,1185.98 1196.90,1179.20 C1200.43,1172.42 1203.97,1165.05 1206.80,1159.40 C1209.63,1153.75 1211.83,1150.20 1213.90,1145.30 C1215.97,1140.40 1217.43,1135.28 1219.20,1130.00 C1220.97,1124.72 1222.60,1118.52 1224.50,1113.60 C1226.40,1108.68 1228.57,1104.87 1230.60,1100.50 C1232.63,1096.13 1234.80,1091.77 1236.70,1087.40 C1238.60,1083.03 1240.40,1078.67 1242.00,1074.30 C1243.60,1069.93 1244.85,1065.87 1246.30,1061.20 C1247.75,1056.53 1249.10,1051.25 1250.70,1046.30 C1252.30,1041.35 1254.13,1035.97 1255.90,1031.50 C1257.67,1027.03 1259.15,1024.67 1261.30,1019.50 C1263.45,1014.33 1266.60,1006.18 1268.80,1000.50 C1271.00,994.82 1272.77,990.12 1274.50,985.40 C1276.23,980.68 1277.48,976.90 1279.20,972.20 C1280.92,967.50 1283.08,961.75 1284.80,957.20 C1286.52,952.65 1287.93,948.52 1289.50,944.90 C1291.07,941.28 1292.47,939.25 1294.20,935.50 C1295.93,931.75 1297.85,926.95 1299.90,922.40 C1301.95,917.85 1304.30,912.92 1306.50,908.20 C1308.70,903.48 1310.75,898.80 1313.10,894.10 C1315.45,889.40 1318.60,883.93 1320.60,880.00 C1322.60,876.07 1323.18,874.43 1325.10,870.50 C1327.02,866.57 1329.75,861.12 1332.10,856.40 C1334.45,851.68 1336.37,847.38 1339.20,842.20 C1342.03,837.02 1346.05,830.70 1349.10,825.30 C1352.15,819.90 1354.68,814.98 1357.50,809.80 C1360.32,804.62 1364.58,796.80 1366.00,794.20" stroke="#be0000" stroke-width="2.4" fill="none" stroke-linejoin="round" stroke-linecap="round"/>
<path d="M1223.8,1112.8L1145.4,1374.7" stroke="#be0000" stroke-width="2.1" fill="none"/>
<path d="M1141.1,1389.1L1142.1,1372.7L1149.2,1374.8Z" fill="#be0000"/>
</svg>
</body></html>
